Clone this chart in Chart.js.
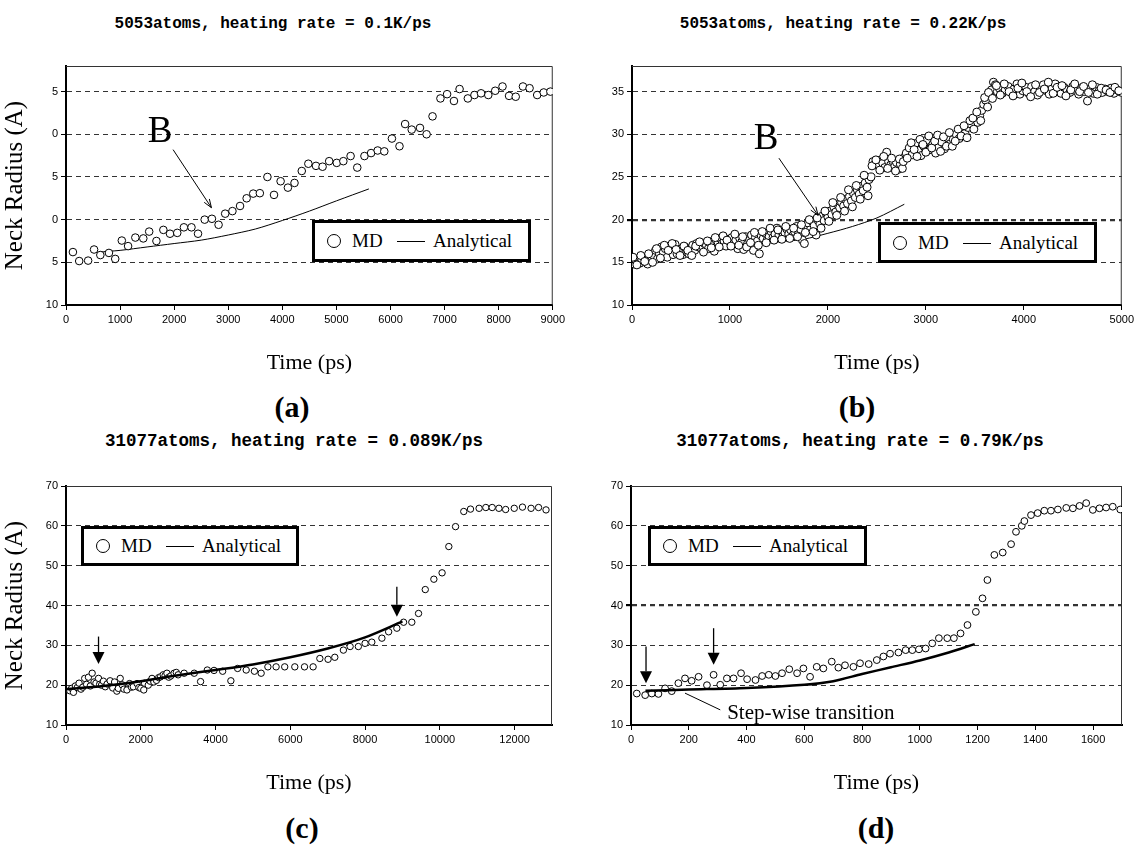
<!DOCTYPE html>
<html>
<head>
<meta charset="utf-8">
<script src="https://cdn.jsdelivr.net/npm/chart.js@4.4.0/dist/chart.umd.min.js"></script>
<style>
  body { margin:0; width:1137px; height:850px; background:#fff; position:relative; overflow:hidden; }
  canvas { position:absolute; }
  .title { position:absolute; font-family:'Liberation Mono', monospace; font-weight:bold; white-space:nowrap; transform:translate(-50%,-50%); color:#000; }
  .tag { position:absolute; font-family:'Liberation Serif', serif; font-weight:bold; font-size:30px; transform:translate(-50%,-50%); color:#000; }
  .legend { position:absolute; box-sizing:border-box; border:3px solid #000; background:#fff; font-family:'Liberation Serif', serif; font-size:19px; color:#000; }
  .legend .dot { position:absolute; left:12px; top:50%; width:12px; height:12px; margin-top:-7px; border:1px solid #000; border-radius:50%; }
  .legend .md { position:absolute; left:37px; top:50%; transform:translateY(-50%); }
  .legend .dash { position:absolute; left:82px; width:28px; top:50%; border-top:1px solid #000; }
  .legend .an { position:absolute; left:118px; top:50%; transform:translateY(-50%); }
</style>
</head>
<body>

<div class="title" style="left:273px; top:24px; font-size:16px;">5053atoms, heating rate = 0.1K/ps</div>
<div class="title" style="left:843px; top:24px; font-size:16px;">5053atoms, heating rate = 0.22K/ps</div>
<div class="title" style="left:294px; top:441px; font-size:17.5px;">31077atoms, heating rate = 0.089K/ps</div>
<div class="title" style="left:860px; top:441px; font-size:17.5px;">31077atoms, heating rate = 0.79K/ps</div>

<canvas id="chartA" width="568" height="330" style="left:0; top:50px;"></canvas>
<canvas id="chartB" width="569" height="330" style="left:568px; top:50px;"></canvas>
<canvas id="chartC" width="568" height="330" style="left:0; top:470px;"></canvas>
<canvas id="chartD" width="569" height="330" style="left:568px; top:470px;"></canvas>

<div class="legend" style="left:312px; top:220px; width:219px; height:42px;"><span class="dot"></span><span class="md">MD</span><span class="dash"></span><span class="an">Analytical</span></div>
<div class="legend" style="left:878px; top:222px; width:219px; height:41px;"><span class="dot"></span><span class="md">MD</span><span class="dash"></span><span class="an">Analytical</span></div>
<div class="legend" style="left:81px; top:526px; width:218px; height:40px;"><span class="dot"></span><span class="md">MD</span><span class="dash"></span><span class="an">Analytical</span></div>
<div class="legend" style="left:648px; top:526px; width:219px; height:40px;"><span class="dot"></span><span class="md">MD</span><span class="dash"></span><span class="an">Analytical</span></div>

<div class="tag" style="left:292px; top:407px;">(a)</div>
<div class="tag" style="left:857px; top:407px;">(b)</div>
<div class="tag" style="left:302px; top:828px;">(c)</div>
<div class="tag" style="left:876px; top:828px;">(d)</div>

<script>
// ---- (a) 5053 atoms, 0.1 K/ps ----
const aTime   = [128,244,409,519,635,794,910,1032,1148,1282,1429,1538,1672,1800,1923,2057,2180,2320,2441,2564,2698,2821,2943,3077,3218,3340,3462,3584,3724,3846,3968,4103,4225,4359,4481,4622,4744,4866,5006,5128,5262,5385,5518,5641,5763,5885,6026,6166,6270,6392,6545,6667,6777,6923,7046,7173,7277,7430,7552,7674,7808,7936,8071,8192,8315,8449,8571,8712,8833,8956];
const aRadius = [16.2,15.15,15.2,16.5,15.85,16.1,15.4,17.55,16.9,17.9,17.8,18.6,17.5,18.8,18.35,18.45,19.1,19.1,18.35,20,20.1,19.4,20.7,21,21.6,22.5,23.05,23.1,25,22.9,24.5,23.75,24.3,25.7,26.55,26.3,26.2,26.85,26.65,26.85,27.45,26.1,27.45,27.8,28.1,28,29.5,28.6,31.2,30.55,30.75,30,32.1,34.2,34.7,33.9,35.3,34.2,34.6,34.8,34.6,35.1,35.6,34.5,34.4,35.6,35.4,34.6,34.9,35];
const aLineTime   = [600,1000,1500,2000,2500,3000,3500,4000,4500,5000,5600];
const aLineRadius = [16.2,16.4,16.8,17.2,17.6,18.2,18.9,19.9,21.0,22.2,23.6];
const aXTicks     = [0,1000,2000,3000,4000,5000,6000,7000,8000,9000];
const aYTicks     = [10,15,20,25,30,35];
const aYTickText  = ['10','5','0','5','0','5'];   // labels are clipped in the original figure

// ---- (b) 5053 atoms, 0.22 K/ps ----
const bTime = [0,20,40,60,80,100,120,140,160,180,200,220,240,260,280,300,320,340,360,380,400,420,440,460,480,500,520,540,560,580,600,620,640,660,680,700,720,740,760,780,800,820,840,860,880,900,920,940,960,980,1000,1020,1040,1060,1080,1100,1120,1140,1160,1180,1200,1220,1240,1260,1280,1300,1320,1340,1360,1380,1400,1420,1440,1460,1480,1500,1520,1540,1560,1580,1600,1620,1640,1660,1680,1700,1720,1740,1760,1780,1800,1820,1840,1860,1880,1900,1920,1940,1960,1980,2000,2020,2040,2060,2080,2100,2120,2140,2160,2180,2200,2220,2240,2260,2280,2300,2320,2340,2360,2380,2400,2420,2440,2460,2480,2500,2520,2540,2560,2580,2600,2620,2640,2660,2680,2700,2720,2740,2760,2780,2800,2830,2860,2890,2920,2950,2980,3010,3040,3070,3100,3130,3160,3190,3220,3250,3280,3310,3340,3370,3400,3430,3460,3490,3510,3530,3550,3570,3590,3610,3630,3650,3670,3690,3710,3730,3750,3780,3810,3840,3870,3900,3930,3960,3990,4020,4050,4080,4110,4140,4170,4200,4230,4260,4290,4320,4350,4380,4410,4440,4470,4500,4530,4560,4590,4620,4650,4680,4710,4740,4770,4800,4830,4860,4890,4920,4950,4980,5000,
    10,50,90,130,170,210,250,290,330,370,410,450,490,530,570,610,650,690,730,770,810,850,890,930,970,1010,1050,1090,1130,1170,1210,1250,1290,1330,1370,1410,1450,1490,1530,1570,1610,1650,1690,1730,1770,1810,1850,1890,1930,1970,2010,2050,2090,2130,2170,2210,2250,2290,2330,2370,2410,2450,2490,2530,2570,2610,2650,2690,2730,2770,2810,2850,2880,2910,2940,2970,3000,3030,3060,3090,3120,3150,3180,3210,3240,3270,3300,3330,3360,3390,3420,3450,3480,3520,3560,3600,3640,3680,3720,3760,3800,3850,3890,3940,3980,4030,4070,4120,4160,4210,4250,4300,4340,4390,4430,4480,4520,4570,4610,4660,4700,4750,4790,4840,4880,4930,4970];
const bRadius = [15.0,14.8,15.2,15.4,14.9,15.3,15.6,15.0,14.8,15.5,15.2,15.8,16.4,15.4,16.0,16.8,16.2,16.6,15.6,16.9,16.3,15.9,17.1,16.0,16.5,16.2,15.9,16.8,16.2,16.0,16.6,17.0,16.4,17.2,16.8,17.3,16.9,17.2,17.0,16.6,17.4,17.1,16.3,17.6,17.3,17.8,17.2,17.5,16.9,17.7,17.4,17.9,17.2,17.6,16.6,17.8,17.4,16.5,18.0,17.2,17.6,18.2,16.4,17.9,17.5,16.0,18.1,17.8,18.4,17.6,18.0,18.6,17.9,18.3,19.0,18.2,18.7,18.0,18.5,18.9,18.3,18.8,18.1,18.6,19.2,18.4,18.9,17.6,17.2,19.3,19.6,18.8,19.8,19.3,18.2,19.9,19.5,20.4,19.9,20.8,20.3,21.0,20.6,21.5,20.9,21.8,21.4,22.0,21.6,22.4,21.9,22.7,22.2,23.1,22.6,23.5,23.0,23.9,23.4,24.3,23.8,24.7,25.0,26.8,26.5,26.9,26.3,27.0,26.6,26.1,27.9,26.8,26.4,26.9,26.2,26.7,25.9,26.5,26.0,27.3,27.8,28.4,27.6,28.9,28.1,27.5,28.6,29.3,28.2,28.8,27.8,28.5,29.1,28.3,29.6,28.9,29.4,30.0,29.5,30.4,30.1,30.8,31.2,30.6,31.8,31.4,32.2,32.8,33.5,34.0,33.2,34.6,35.2,36.1,35.8,35.0,35.4,34.8,35.2,35.6,34.9,35.3,35.9,34.7,35.1,35.5,34.8,35.6,35.0,34.6,35.3,35.8,35.1,34.7,35.4,35.9,35.0,34.8,35.5,35.2,34.9,35.6,35.1,34.7,35.4,35.0,33.9,35.3,34.8,35.5,35.1,34.9,35.3,35.0,35.4,34.8,35.2,35.0,34.9,
    15.6,14.7,15.8,15.1,16.0,15.0,16.6,15.5,17.0,16.4,17.2,16.5,15.8,16.9,16.4,15.8,16.9,17.4,16.2,17.5,16.7,17.9,16.8,18.1,17.6,16.9,18.3,17.0,18.0,16.8,17.3,18.5,17.0,18.6,17.3,19.0,17.6,18.8,17.7,19.2,17.8,19.0,18.0,19.4,18.5,20.0,18.6,20.2,19.0,21.0,19.8,22.0,20.5,22.6,21.0,23.5,21.5,24.0,22.4,25.2,22.8,26.3,27.0,25.8,27.4,26.0,27.2,25.7,27.1,26.8,27.2,29.0,28.2,27.4,29.4,28.8,27.9,29.8,28.4,29.2,29.9,28.0,29.7,28.6,30.2,28.6,29.2,30.6,29.8,31.0,29.6,31.6,31.9,32.6,31.6,34.3,34.9,34.2,35.7,34.6,35.9,35.0,34.5,35.4,36.0,35.0,34.4,35.8,34.9,35.3,36.1,34.8,35.5,35.7,34.5,35.2,35.9,35.0,35.6,34.9,35.8,34.7,35.4,35.2,34.9,35.5,35.1];
const bLineTime   = [0,250,500,750,1000,1250,1500,1750,2000,2250,2500,2780];
const bLineRadius = [15.0,15.8,16.3,16.5,16.8,17.1,17.4,17.7,18.4,19.2,20.2,21.8];
const bXTicks     = [0,1000,2000,3000,4000,5000];
const bYTicks     = [10,15,20,25,30,35];

// ---- (c) 31077 atoms, 0.089 K/ps ----
const cTime   = [100,150,200,250,300,350,400,450,500,550,600,650,700,750,800,870,900,950,1000,1050,1100,1180,1250,1300,1360,1400,1450,1500,1550,1630,1700,1750,1800,1900,1950,2000,2080,2100,2200,2250,2300,2350,2420,2480,2530,2600,2650,2700,2750,2800,2890,2950,3000,3160,3430,3600,3780,3960,4190,4410,4590,4820,5040,5220,5400,5620,5850,6120,6380,6610,6790,7010,7190,7420,7600,7820,8000,8180,8450,8630,8850,9030,9250,9430,9610,9840,10060,10240,10420,10640,10820,11050,11230,11400,11580,11760,11990,12210,12440,12640,12840];
const cRadius = [18.6,19.2,18.2,19.8,19.4,20.5,19.0,19.5,21.7,20.2,22.0,19.8,23.0,20.8,20.5,21.7,20.2,20.0,21.0,19.6,20.3,21.1,19.3,20.8,18.5,19.2,21.7,20.1,19.0,18.8,20.4,19.5,19.6,20.4,19.4,19.2,18.8,20.5,20.0,21.0,21.7,20.8,21.2,21.9,22.1,22.6,22.4,23.0,22.0,22.3,23.0,23.2,22.6,23.0,23.0,20.9,23.8,23.7,23.5,21.1,24.2,23.8,23.5,23.0,24.6,24.6,24.6,24.6,24.6,24.6,26.7,26.5,27.0,28.8,29.7,29.7,30.5,30.8,31.8,33.4,34.3,35.8,35.8,38.0,44.0,46.6,48.2,54.8,59.8,63.6,64.2,64.4,64.6,64.6,64.4,64.1,64.4,64.7,64.4,64.6,64.0];
const cLineTime   = [0,1000,2000,3000,4000,5000,6000,7000,8000,9000];
const cLineRadius = [19.0,19.8,21.0,22.5,23.8,25.2,27.0,29.2,32.0,36.0];
const cXTicks     = [0,2000,4000,6000,8000,10000,12000];
const cYTicks     = [10,20,30,40,50,60,70];

// ---- (d) 31077 atoms, 0.79 K/ps ----
const dTime   = [20,49,72,95,118,141,164,187,210,234,263,286,309,332,355,381,402,431,454,477,500,523,548,575,597,620,643,666,695,718,741,770,793,823,851,874,897,926,951,974,997,1020,1043,1066,1095,1118,1141,1165,1194,1217,1234,1258,1287,1316,1333,1353,1362,1385,1408,1431,1454,1478,1507,1530,1553,1576,1599,1622,1645,1668,1694];
const dRadius = [17.9,17.5,17.9,17.8,19.2,18.5,20.5,21.7,21.1,22.1,20.0,22.6,20.1,21.7,21.7,23.0,21.5,21.3,22.3,22.6,22.3,23.0,24.0,23.0,24.2,22.1,24.6,24.2,25.9,24.4,25.0,24.6,25.5,25.3,26.3,27.2,27.9,28.2,28.8,28.8,29.0,29.2,30.5,31.8,31.8,31.8,33.0,35.1,38.4,41.8,46.4,52.7,53.3,55.4,58.5,60.0,61.2,62.7,63.2,63.8,63.8,64.1,64.5,64.4,65.0,65.7,64.0,64.4,64.6,64.8,64.1];
const dLineTime   = [50,200,400,600,700,800,900,1000,1100,1190];
const dLineRadius = [18.6,18.9,19.3,20.1,21.0,22.8,24.5,26.2,28.2,30.3];
const dXTicks     = [0,200,400,600,800,1000,1200,1400,1600];
const dYTicks     = [10,20,30,40,50,60,70];

// pair two arrays into {x, y} points
function toPoints(xs, ys){
    return xs.map((x, i) => ({x: x, y: ys[i]}));
}

// thin frame on the top and right of the plot area
const framePlugin = {
    id: 'frame',
    beforeDatasetsDraw(chart){
        const a = chart.chartArea, ctx = chart.ctx;
        ctx.save();
        ctx.strokeStyle = '#333';
        ctx.lineWidth = 1;
        ctx.beginPath();
        ctx.moveTo(a.left, a.top + 0.5);
        ctx.lineTo(a.right - 0.5, a.top + 0.5);
        ctx.lineTo(a.right - 0.5, a.bottom);
        ctx.stroke();
        ctx.restore();
    }
};

// arrows and labels placed in data coordinates
function makeNotes(items){
    return {
        id: 'notes',
        afterDatasetsDraw(chart){
            const ctx = chart.ctx, xs = chart.scales.x, ys = chart.scales.y;
            const px = p => [xs.getPixelForValue(p[0]), ys.getPixelForValue(p[1])];
            ctx.save();
            items.forEach(n => {
                if (n.type === 'text'){
                    const [x, y] = px(n.at);
                    ctx.fillStyle = '#000';
                    ctx.font = n.font;
                    ctx.textAlign = n.align || 'center';
                    ctx.textBaseline = 'middle';
                    ctx.fillText(n.text, x, y);
                    return;
                }
                const [x1, y1] = px(n.from), [x2, y2] = px(n.to);
                const ang = Math.atan2(y2 - y1, x2 - x1);
                ctx.strokeStyle = '#000';
                ctx.fillStyle = '#000';
                if (n.type === 'thin'){             // line with an open arrow head
                    ctx.lineWidth = 1;
                    ctx.beginPath();
                    ctx.moveTo(x1, y1); ctx.lineTo(x2, y2);
                    if (n.head !== false){
                        ctx.moveTo(x2 - 9 * Math.cos(ang - 0.35), y2 - 9 * Math.sin(ang - 0.35));
                        ctx.lineTo(x2, y2);
                        ctx.lineTo(x2 - 9 * Math.cos(ang + 0.35), y2 - 9 * Math.sin(ang + 0.35));
                    }
                    ctx.stroke();
                } else {                            // line with a filled triangle head
                    const hl = 12, hw = 6;
                    const bx = x2 - hl * Math.cos(ang), by = y2 - hl * Math.sin(ang);
                    ctx.lineWidth = 1.3;
                    ctx.beginPath();
                    ctx.moveTo(x1, y1); ctx.lineTo(bx, by);
                    ctx.stroke();
                    ctx.beginPath();
                    ctx.moveTo(x2, y2);
                    ctx.lineTo(bx + hw * Math.sin(ang), by - hw * Math.cos(ang));
                    ctx.lineTo(bx - hw * Math.sin(ang), by + hw * Math.cos(ang));
                    ctx.closePath();
                    ctx.fill();
                }
            });
            ctx.restore();
        }
    };
}

function makePanel(id, p){
    const canvas = document.getElementById(id);
    return new Chart(canvas, {
        type: 'scatter',
        data: {
            datasets: [
                {
                    label: 'MD',
                    data: toPoints(p.mdTime, p.mdRadius),
                    pointStyle: 'circle',
                    pointRadius: p.pointRadius,
                    backgroundColor: '#fff',
                    borderColor: '#000',
                    borderWidth: 1,
                    order: p.lineOnTop ? 2 : 1
                },{
                    label: 'Analytical',
                    data: toPoints(p.lineTime, p.lineRadius),
                    showLine: true,
                    pointRadius: 0,
                    borderColor: '#000',
                    borderWidth: p.lineWidth,
                    tension: 0.3,
                    order: p.lineOnTop ? 1 : 2
                }
            ]
        },
        options: {
            responsive: false,
            animation: false,
            layout: { padding: { top: 16, right: p.padRight, left: 0, bottom: 0 } },
            scales: {
                x: {
                    type: 'linear',
                    min: 0,
                    max: p.xMax,
                    afterFit: s => { s.height = 75; },
                    afterBuildTicks: s => { s.ticks = p.xTicks.map(v => ({value: v})); },
                    ticks: {
                        maxRotation: 0,
                        autoSkip: false,
                        padding: 3,
                        color: '#000',
                        font: { family: 'Liberation Sans', size: 11 },
                        callback: v => String(v)
                    },
                    grid: { drawOnChartArea: false, tickLength: 5, tickColor: '#000' },
                    border: { color: '#000', width: 2 },
                    title: {
                        display: true,
                        text: 'Time (ps)',
                        color: '#000',
                        font: { family: 'Liberation Serif', size: 22 },
                        padding: { top: 20 }
                    }
                },
                y: {
                    min: 10,
                    max: p.yMax,
                    afterFit: s => { s.width = p.yWidth; },
                    afterBuildTicks: s => { s.ticks = p.yTicks.map(v => ({value: v})); },
                    ticks: {
                        padding: 3,
                        color: '#000',
                        font: { family: 'Liberation Sans', size: 11 },
                        callback: (v, i) => p.yText ? p.yText[i] : String(v)
                    },
                    grid: {
                        color: '#333',
                        lineWidth: c => (c.tick && c.tick.value === p.boldLine) ? 2.2 : 1,
                        tickLength: 5,
                        tickColor: '#000'
                    },
                    border: { color: '#000', width: 2, dash: [5, 4] },
                    title: {
                        display: p.yTitle,
                        text: 'Neck Radius (A)',
                        color: '#000',
                        font: { family: 'Liberation Serif', size: 25 },
                        padding: { top: 0, bottom: 0 }
                    }
                }
            },
            plugins: {
                legend: { display: false },
                tooltip: { enabled: false }
            }
        },
        plugins: [framePlugin, makeNotes(p.notes)]
    });
}

const serifB = '37px "Liberation Serif"';

makePanel('chartA', {
    mdTime: aTime, mdRadius: aRadius, lineTime: aLineTime, lineRadius: aLineRadius,
    xMax: 9000, xTicks: aXTicks, yMax: 38, yTicks: aYTicks, yText: aYTickText,
    yWidth: 66, padRight: 11, yTitle: true, pointRadius: 3.8, lineWidth: 1,
    notes: [
        {type: 'text', at: [1740, 30.2], text: 'B', font: serifB},
        {type: 'thin', from: [1980, 28.2], to: [2689, 21.4]}
    ]
});

makePanel('chartB', {
    mdTime: bTime, mdRadius: bRadius, lineTime: bLineTime, lineRadius: bLineRadius,
    xMax: 5000, xTicks: bXTicks, yMax: 38, yTicks: bYTicks, boldLine: 20,
    yWidth: 64, padRight: 15, yTitle: false, pointRadius: 4, lineWidth: 1,
    notes: [
        {type: 'text', at: [1370, 29.4], text: 'B', font: serifB},
        {type: 'thin', from: [1500, 27.2], to: [1900, 20.5]}
    ]
});

makePanel('chartC', {
    mdTime: cTime, mdRadius: cRadius, lineTime: cLineTime, lineRadius: cLineRadius,
    xMax: 13000, xTicks: cXTicks, yMax: 70, yTicks: cYTicks,
    yWidth: 66, padRight: 16, yTitle: true, pointRadius: 3.2, lineWidth: 2.5, lineOnTop: true,
    notes: [
        {type: 'solid', from: [870, 32.2], to: [870, 25.3]},
        {type: 'solid', from: [8850, 44.7], to: [8850, 37.2]}
    ]
});

makePanel('chartD', {
    mdTime: dTime, mdRadius: dRadius, lineTime: dLineTime, lineRadius: dLineRadius,
    xMax: 1700, xTicks: dXTicks, yMax: 70, yTicks: dYTicks, boldLine: 40,
    yWidth: 63, padRight: 15, yTitle: false, pointRadius: 3.4, lineWidth: 2.5, lineOnTop: true,
    notes: [
        {type: 'solid', from: [52, 29.7], to: [52, 20.5]},
        {type: 'solid', from: [286, 34.3], to: [286, 25.1]},
        {type: 'thin', from: [187, 18.0], to: [309, 13.8], head: false},
        {type: 'text', at: [333, 13.0], text: 'Step-wise transition', font: '21px "Liberation Serif"', align: 'left'}
    ]
});
</script>
</body>
</html>
